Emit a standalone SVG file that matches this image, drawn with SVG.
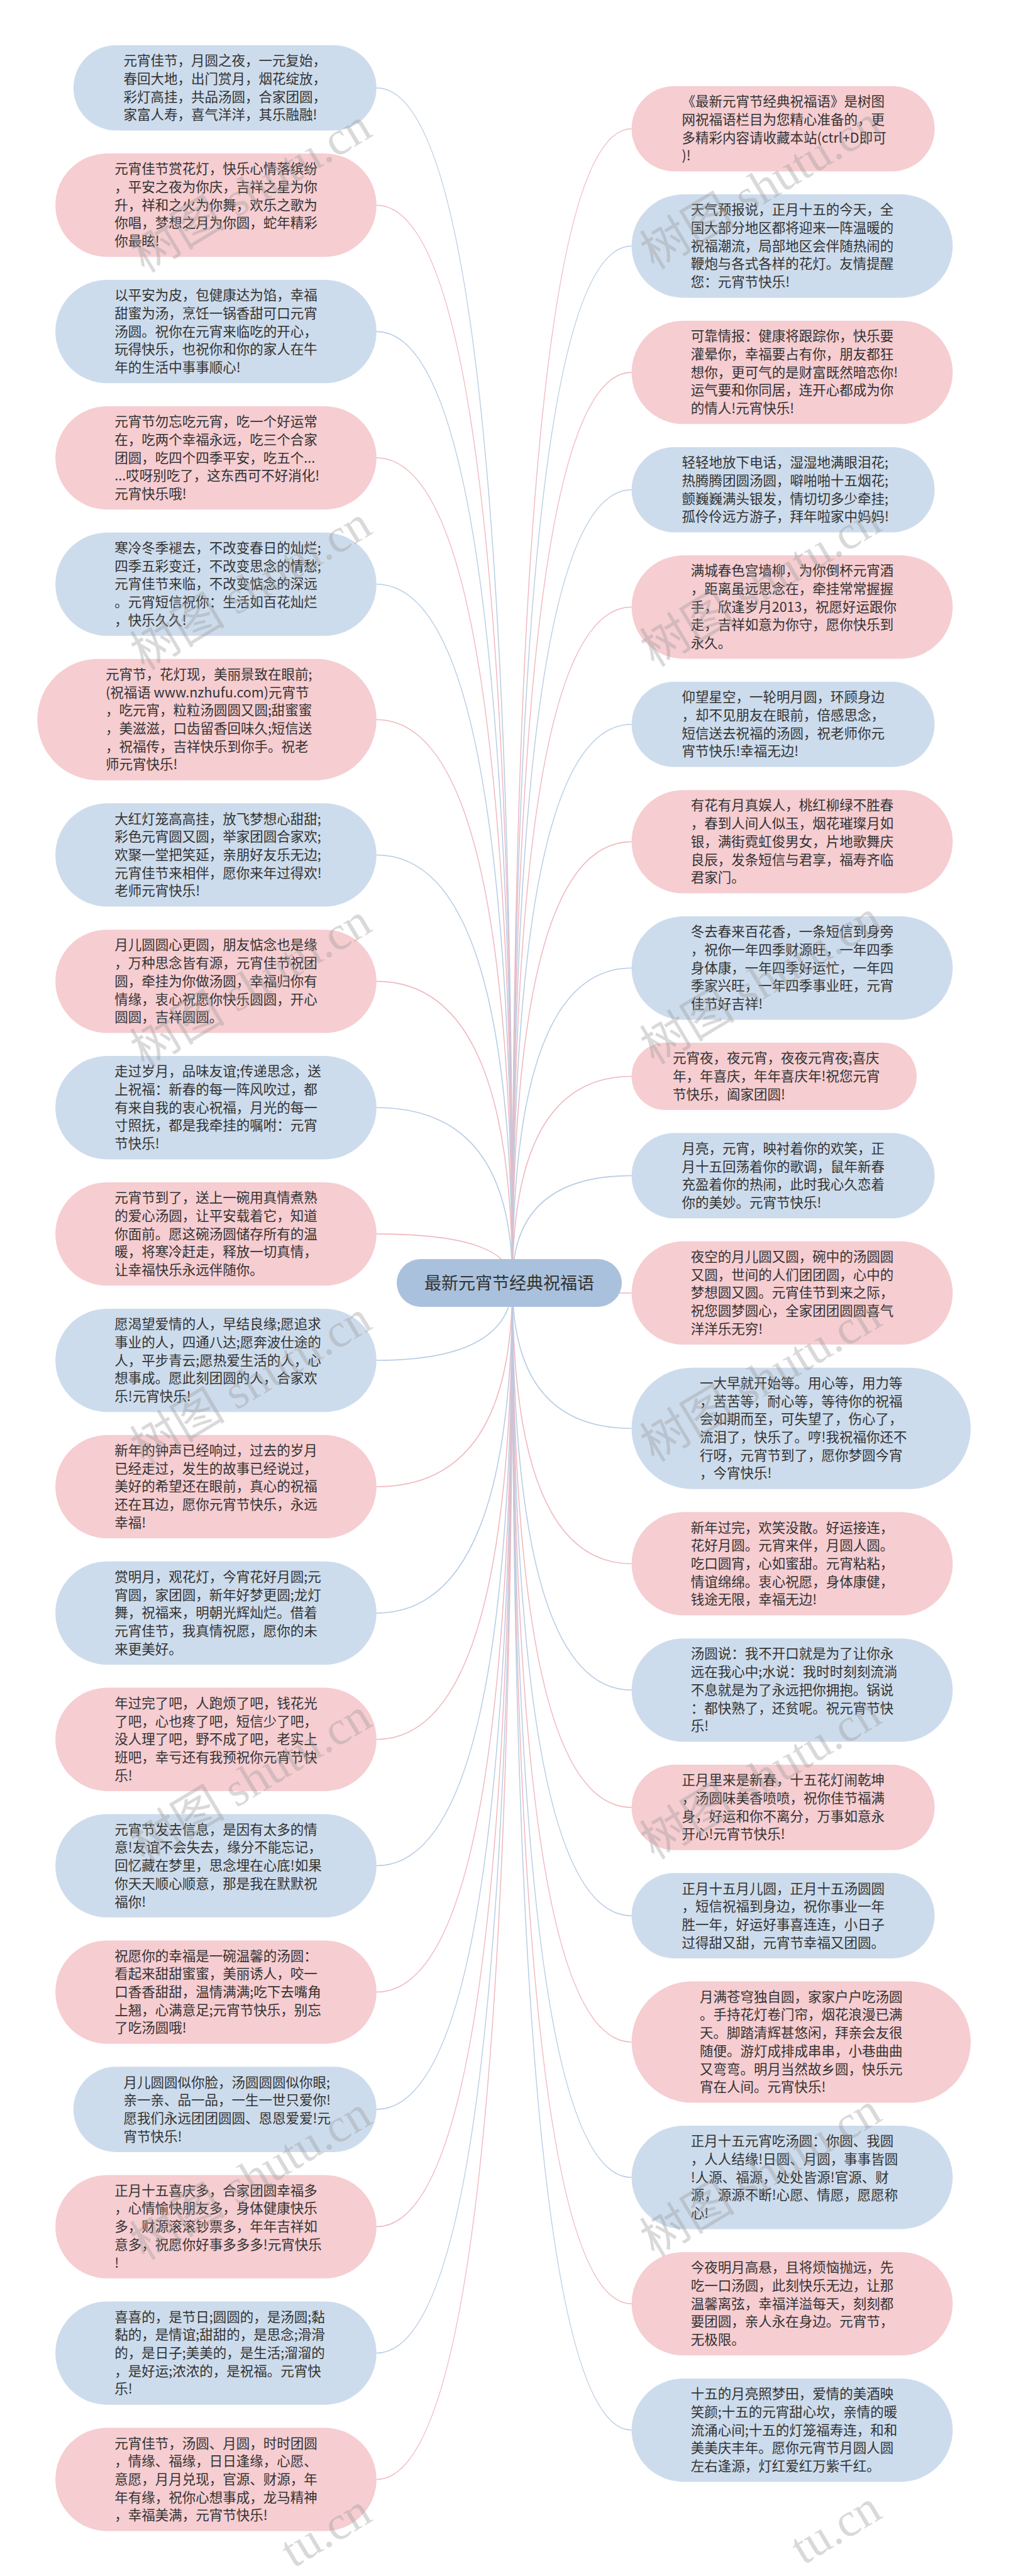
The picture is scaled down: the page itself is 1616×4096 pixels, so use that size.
<svg xmlns="http://www.w3.org/2000/svg" width="1616" height="4096" viewBox="0 0 1616 4096">
<style>
.b{fill:#cddcec}
.p{fill:#f6cdd1}
.t{font-family:"Noto Sans CJK SC","Liberation Sans",sans-serif;font-size:21.5px;fill:#333333}
.root{fill:#a9c1dc}
.rt{font-family:"Noto Sans CJK SC","Liberation Sans",sans-serif;font-size:27px;fill:#333333;text-anchor:middle}
.cb{fill:none;stroke:#b7cce4;stroke-width:1.6}
.cp{fill:none;stroke:#f0b7be;stroke-width:1.6}
.wm{font-family:"Liberation Serif","Noto Sans CJK SC",serif;font-size:76px;fill:#9a9a9a;fill-opacity:0.38;text-anchor:end}
</style>
<rect x="0" y="0" width="1616" height="4096" fill="#ffffff"/>
<g id="connectors">
<path class="cb" d="M598.8,139.7 Q815,139.7 815,2040"/>
<path class="cp" d="M598.8,326.25 Q815,326.25 815,2040"/>
<path class="cb" d="M598.8,527.15 Q815,527.15 815,2040"/>
<path class="cp" d="M598.8,728.05 Q815,728.05 815,2040"/>
<path class="cb" d="M598.8,928.95 Q815,928.95 815,2040"/>
<path class="cp" d="M598.8,1144.2 Q815,1144.2 815,2040"/>
<path class="cb" d="M598.8,1359.45 Q815,1359.45 815,2040"/>
<path class="cp" d="M598.8,1560.35 Q815,1560.35 815,2040"/>
<path class="cb" d="M598.8,1761.25 Q815,1761.25 815,2040"/>
<path class="cp" d="M598.8,1962.15 Q815,1962.15 815,2040"/>
<path class="cb" d="M598.8,2163.05 Q815,2163.05 815,2040"/>
<path class="cp" d="M598.8,2363.95 Q815,2363.95 815,2040"/>
<path class="cb" d="M598.8,2564.85 Q815,2564.85 815,2040"/>
<path class="cp" d="M598.8,2765.75 Q815,2765.75 815,2040"/>
<path class="cb" d="M598.8,2966.65 Q815,2966.65 815,2040"/>
<path class="cp" d="M598.8,3167.55 Q815,3167.55 815,2040"/>
<path class="cb" d="M598.8,3354.1 Q815,3354.1 815,2040"/>
<path class="cp" d="M598.8,3540.65 Q815,3540.65 815,2040"/>
<path class="cb" d="M598.8,3741.55 Q815,3741.55 815,2040"/>
<path class="cp" d="M598.8,3942.45 Q815,3942.45 815,2040"/>
<path class="cp" d="M1004.6,204.7 Q815,204.7 815,2040"/>
<path class="cb" d="M1004.6,391.25 Q815,391.25 815,2040"/>
<path class="cp" d="M1004.6,592.15 Q815,592.15 815,2040"/>
<path class="cb" d="M1004.6,778.7 Q815,778.7 815,2040"/>
<path class="cp" d="M1004.6,965.25 Q815,965.25 815,2040"/>
<path class="cb" d="M1004.6,1151.8 Q815,1151.8 815,2040"/>
<path class="cp" d="M1004.6,1338.35 Q815,1338.35 815,2040"/>
<path class="cb" d="M1004.6,1539.25 Q815,1539.25 815,2040"/>
<path class="cp" d="M1004.6,1711.5 Q815,1711.5 815,2040"/>
<path class="cb" d="M1004.6,1869.4 Q815,1869.4 815,2040"/>
<path class="cp" d="M1004.6,2055.95 Q815,2055.95 815,2040"/>
<path class="cb" d="M1004.6,2271.2 Q815,2271.2 815,2040"/>
<path class="cp" d="M1004.6,2486.45 Q815,2486.45 815,2040"/>
<path class="cb" d="M1004.6,2687.35 Q815,2687.35 815,2040"/>
<path class="cp" d="M1004.6,2873.9 Q815,2873.9 815,2040"/>
<path class="cb" d="M1004.6,3046.1 Q815,3046.1 815,2040"/>
<path class="cp" d="M1004.6,3247 Q815,3247 815,2040"/>
<path class="cb" d="M1004.6,3462.25 Q815,3462.25 815,2040"/>
<path class="cp" d="M1004.6,3663.15 Q815,3663.15 815,2040"/>
<path class="cb" d="M1004.6,3864.05 Q815,3864.05 815,2040"/>
</g>
<g id="root"><rect class="root" x="631" y="2002" width="358" height="76" rx="38"/><text class="rt" x="810" y="2049.5">最新元宵节经典祝福语</text></g>
<g id="L1"><rect class="b" x="116.8" y="71.9" width="482" height="135.6" rx="67.8"/><text class="t" y="104.1"><tspan x="196.6">元宵佳节，月圆之夜，一元复始，</tspan><tspan x="196.6" dy="28.7">春回大地，出门赏月，烟花绽放，</tspan><tspan x="196.6" dy="28.7">彩灯高挂，共品汤圆，合家团圆，</tspan><tspan x="196.6" dy="28.7">家富人寿，喜气洋洋，其乐融融!</tspan></text></g>
<g id="L2"><rect class="p" x="88.1" y="244.1" width="510.7" height="164.3" rx="82.15"/><text class="t" y="276.3"><tspan x="182.25">元宵佳节赏花灯，快乐心情落缤纷</tspan><tspan x="182.25" dy="28.7">，平安之夜为你庆，吉祥之星为你</tspan><tspan x="182.25" dy="28.7">升，祥和之火为你舞，欢乐之歌为</tspan><tspan x="182.25" dy="28.7">你唱，梦想之月为你圆，蛇年精彩</tspan><tspan x="182.25" dy="28.7">你最眩!</tspan></text></g>
<g id="L3"><rect class="b" x="88.1" y="445" width="510.7" height="164.3" rx="82.15"/><text class="t" y="477.2"><tspan x="182.25">以平安为皮，包健康达为馅，幸福</tspan><tspan x="182.25" dy="28.7">甜蜜为汤，烹饪一锅香甜可口元宵</tspan><tspan x="182.25" dy="28.7">汤圆。祝你在元宵来临吃的开心，</tspan><tspan x="182.25" dy="28.7">玩得快乐，也祝你和你的家人在牛</tspan><tspan x="182.25" dy="28.7">年的生活中事事顺心!</tspan></text></g>
<g id="L4"><rect class="p" x="88.1" y="645.9" width="510.7" height="164.3" rx="82.15"/><text class="t" y="678.1"><tspan x="182.25">元宵节勿忘吃元宵，吃一个好运常</tspan><tspan x="182.25" dy="28.7">在，吃两个幸福永远，吃三个合家</tspan><tspan x="182.25" dy="28.7">团圆，吃四个四季平安，吃五个...</tspan><tspan x="182.25" dy="28.7">...哎呀别吃了，这东西可不好消化!</tspan><tspan x="182.25" dy="28.7">元宵快乐哦!</tspan></text></g>
<g id="L5"><rect class="b" x="88.1" y="846.8" width="510.7" height="164.3" rx="82.15"/><text class="t" y="879"><tspan x="182.25">寒冷冬季褪去，不改变春日的灿烂;</tspan><tspan x="182.25" dy="28.7">四季五彩变迁，不改变思念的情愁;</tspan><tspan x="182.25" dy="28.7">元宵佳节来临，不改变惦念的深远</tspan><tspan x="182.25" dy="28.7">。元宵短信祝你：生活如百花灿烂</tspan><tspan x="182.25" dy="28.7">，快乐久久!</tspan></text></g>
<g id="L6"><rect class="p" x="59.4" y="1047.7" width="539.4" height="193" rx="96.5"/><text class="t" y="1079.9"><tspan x="167.9">元宵节，花灯现，美丽景致在眼前;</tspan><tspan x="167.9" dy="28.7">(祝福语 www.nzhufu.com)元宵节</tspan><tspan x="167.9" dy="28.7">，吃元宵，粒粒汤圆圆又圆;甜蜜蜜</tspan><tspan x="167.9" dy="28.7">，美滋滋，口齿留香回味久;短信送</tspan><tspan x="167.9" dy="28.7">，祝福传，吉祥快乐到你手。祝老</tspan><tspan x="167.9" dy="28.7">师元宵快乐!</tspan></text></g>
<g id="L7"><rect class="b" x="88.1" y="1277.3" width="510.7" height="164.3" rx="82.15"/><text class="t" y="1309.5"><tspan x="182.25">大红灯笼高高挂，放飞梦想心甜甜;</tspan><tspan x="182.25" dy="28.7">彩色元宵圆又圆，举家团圆合家欢;</tspan><tspan x="182.25" dy="28.7">欢聚一堂把笑延，亲朋好友乐无边;</tspan><tspan x="182.25" dy="28.7">元宵佳节来相伴，愿你来年过得欢!</tspan><tspan x="182.25" dy="28.7">老师元宵快乐!</tspan></text></g>
<g id="L8"><rect class="p" x="88.1" y="1478.2" width="510.7" height="164.3" rx="82.15"/><text class="t" y="1510.4"><tspan x="182.25">月儿圆圆心更圆，朋友惦念也是缘</tspan><tspan x="182.25" dy="28.7">，万种思念皆有源，元宵佳节祝团</tspan><tspan x="182.25" dy="28.7">圆，牵挂为你做汤圆，幸福归你有</tspan><tspan x="182.25" dy="28.7">情缘，衷心祝愿你快乐圆圆，开心</tspan><tspan x="182.25" dy="28.7">圆圆，吉祥圆圆。</tspan></text></g>
<g id="L9"><rect class="b" x="88.1" y="1679.1" width="510.7" height="164.3" rx="82.15"/><text class="t" y="1711.3"><tspan x="182.25">走过岁月，品味友谊;传递思念，送</tspan><tspan x="182.25" dy="28.7">上祝福：新春的每一阵风吹过，都</tspan><tspan x="182.25" dy="28.7">有来自我的衷心祝福，月光的每一</tspan><tspan x="182.25" dy="28.7">寸照抚，都是我牵挂的嘱咐：元宵</tspan><tspan x="182.25" dy="28.7">节快乐!</tspan></text></g>
<g id="L10"><rect class="p" x="88.1" y="1880" width="510.7" height="164.3" rx="82.15"/><text class="t" y="1912.2"><tspan x="182.25">元宵节到了，送上一碗用真情煮熟</tspan><tspan x="182.25" dy="28.7">的爱心汤圆，让平安载着它，知道</tspan><tspan x="182.25" dy="28.7">你面前。愿这碗汤圆储存所有的温</tspan><tspan x="182.25" dy="28.7">暖，将寒冷赶走，释放一切真情，</tspan><tspan x="182.25" dy="28.7">让幸福快乐永远伴随你。</tspan></text></g>
<g id="L11"><rect class="b" x="88.1" y="2080.9" width="510.7" height="164.3" rx="82.15"/><text class="t" y="2113.1"><tspan x="182.25">愿渴望爱情的人，早结良缘;愿追求</tspan><tspan x="182.25" dy="28.7">事业的人，四通八达;愿奔波仕途的</tspan><tspan x="182.25" dy="28.7">人，平步青云;愿热爱生活的人，心</tspan><tspan x="182.25" dy="28.7">想事成。愿此刻团圆的人，合家欢</tspan><tspan x="182.25" dy="28.7">乐!元宵快乐!</tspan></text></g>
<g id="L12"><rect class="p" x="88.1" y="2281.8" width="510.7" height="164.3" rx="82.15"/><text class="t" y="2314"><tspan x="182.25">新年的钟声已经响过，过去的岁月</tspan><tspan x="182.25" dy="28.7">已经走过，发生的故事已经说过，</tspan><tspan x="182.25" dy="28.7">美好的希望还在眼前，真心的祝福</tspan><tspan x="182.25" dy="28.7">还在耳边，愿你元宵节快乐，永远</tspan><tspan x="182.25" dy="28.7">幸福!</tspan></text></g>
<g id="L13"><rect class="b" x="88.1" y="2482.7" width="510.7" height="164.3" rx="82.15"/><text class="t" y="2514.9"><tspan x="182.25">赏明月，观花灯，今宵花好月圆;元</tspan><tspan x="182.25" dy="28.7">宵圆，家团圆，新年好梦更圆;龙灯</tspan><tspan x="182.25" dy="28.7">舞，祝福来，明朝光辉灿烂。借着</tspan><tspan x="182.25" dy="28.7">元宵佳节，我真情祝愿，愿你的未</tspan><tspan x="182.25" dy="28.7">来更美好。</tspan></text></g>
<g id="L14"><rect class="p" x="88.1" y="2683.6" width="510.7" height="164.3" rx="82.15"/><text class="t" y="2715.8"><tspan x="182.25">年过完了吧，人跑烦了吧，钱花光</tspan><tspan x="182.25" dy="28.7">了吧，心也疼了吧，短信少了吧，</tspan><tspan x="182.25" dy="28.7">没人理了吧，野不成了吧，老实上</tspan><tspan x="182.25" dy="28.7">班吧，幸亏还有我预祝你元宵节快</tspan><tspan x="182.25" dy="28.7">乐!</tspan></text></g>
<g id="L15"><rect class="b" x="88.1" y="2884.5" width="510.7" height="164.3" rx="82.15"/><text class="t" y="2916.7"><tspan x="182.25">元宵节发去信息，是因有太多的情</tspan><tspan x="182.25" dy="28.7">意!友谊不会失去，缘分不能忘记，</tspan><tspan x="182.25" dy="28.7">回忆藏在梦里，思念埋在心底!如果</tspan><tspan x="182.25" dy="28.7">你天天顺心顺意，那是我在默默祝</tspan><tspan x="182.25" dy="28.7">福你!</tspan></text></g>
<g id="L16"><rect class="p" x="88.1" y="3085.4" width="510.7" height="164.3" rx="82.15"/><text class="t" y="3117.6"><tspan x="182.25">祝愿你的幸福是一碗温馨的汤圆：</tspan><tspan x="182.25" dy="28.7">看起来甜甜蜜蜜，美丽诱人，咬一</tspan><tspan x="182.25" dy="28.7">口香香甜甜，温情满满;吃下去嘴角</tspan><tspan x="182.25" dy="28.7">上翘，心满意足;元宵节快乐，别忘</tspan><tspan x="182.25" dy="28.7">了吃汤圆哦!</tspan></text></g>
<g id="L17"><rect class="b" x="116.8" y="3286.3" width="482" height="135.6" rx="67.8"/><text class="t" y="3318.5"><tspan x="196.6">月儿圆圆似你脸，汤圆圆圆似你眼;</tspan><tspan x="196.6" dy="28.7">亲一亲、品一品，一生一世只爱你!</tspan><tspan x="196.6" dy="28.7">愿我们永远团团圆圆、恩恩爱爱!元</tspan><tspan x="196.6" dy="28.7">宵节快乐!</tspan></text></g>
<g id="L18"><rect class="p" x="88.1" y="3458.5" width="510.7" height="164.3" rx="82.15"/><text class="t" y="3490.7"><tspan x="182.25">正月十五喜庆多，合家团圆幸福多</tspan><tspan x="182.25" dy="28.7">，心情愉快朋友多，身体健康快乐</tspan><tspan x="182.25" dy="28.7">多，财源滚滚钞票多，年年吉祥如</tspan><tspan x="182.25" dy="28.7">意多，祝愿你好事多多多!元宵快乐</tspan><tspan x="182.25" dy="28.7">!</tspan></text></g>
<g id="L19"><rect class="b" x="88.1" y="3659.4" width="510.7" height="164.3" rx="82.15"/><text class="t" y="3691.6"><tspan x="182.25">喜喜的，是节日;圆圆的，是汤圆;黏</tspan><tspan x="182.25" dy="28.7">黏的，是情谊;甜甜的，是思念;滑滑</tspan><tspan x="182.25" dy="28.7">的，是日子;美美的，是生活;溜溜的</tspan><tspan x="182.25" dy="28.7">，是好运;浓浓的，是祝福。元宵快</tspan><tspan x="182.25" dy="28.7">乐!</tspan></text></g>
<g id="L20"><rect class="p" x="88.1" y="3860.3" width="510.7" height="164.3" rx="82.15"/><text class="t" y="3892.5"><tspan x="182.25">元宵佳节，汤圆、月圆，时时团圆</tspan><tspan x="182.25" dy="28.7">，情缘、福缘，日日逢缘，心愿、</tspan><tspan x="182.25" dy="28.7">意愿，月月兑现，官源、财源，年</tspan><tspan x="182.25" dy="28.7">年有缘，祝你心想事成，龙马精神</tspan><tspan x="182.25" dy="28.7">，幸福美满，元宵节快乐!</tspan></text></g>
<g id="R1"><rect class="p" x="1004.6" y="136.9" width="482" height="135.6" rx="67.8"/><text class="t" y="169.1"><tspan x="1084.4">《最新元宵节经典祝福语》是树图</tspan><tspan x="1084.4" dy="28.7">网祝福语栏目为您精心准备的，更</tspan><tspan x="1084.4" dy="28.7">多精彩内容请收藏本站(ctrl+D即可</tspan><tspan x="1084.4" dy="28.7">)!</tspan></text></g>
<g id="R2"><rect class="b" x="1004.6" y="309.1" width="510.7" height="164.3" rx="82.15"/><text class="t" y="341.3"><tspan x="1098.75">天气预报说，正月十五的今天，全</tspan><tspan x="1098.75" dy="28.7">国大部分地区都将迎来一阵温暖的</tspan><tspan x="1098.75" dy="28.7">祝福潮流，局部地区会伴随热闹的</tspan><tspan x="1098.75" dy="28.7">鞭炮与各式各样的花灯。友情提醒</tspan><tspan x="1098.75" dy="28.7">您：元宵节快乐!</tspan></text></g>
<g id="R3"><rect class="p" x="1004.6" y="510" width="510.7" height="164.3" rx="82.15"/><text class="t" y="542.2"><tspan x="1098.75">可靠情报：健康将跟踪你，快乐要</tspan><tspan x="1098.75" dy="28.7">灌晕你，幸福要占有你，朋友都狂</tspan><tspan x="1098.75" dy="28.7">想你，更可气的是财富既然暗恋你!</tspan><tspan x="1098.75" dy="28.7">运气要和你同居，连开心都成为你</tspan><tspan x="1098.75" dy="28.7">的情人!元宵快乐!</tspan></text></g>
<g id="R4"><rect class="b" x="1004.6" y="710.9" width="482" height="135.6" rx="67.8"/><text class="t" y="743.1"><tspan x="1084.4">轻轻地放下电话，湿湿地满眼泪花;</tspan><tspan x="1084.4" dy="28.7">热腾腾团圆汤圆，噼啪啪十五烟花;</tspan><tspan x="1084.4" dy="28.7">颤巍巍满头银发，情切切多少牵挂;</tspan><tspan x="1084.4" dy="28.7">孤伶伶远方游子，拜年啦家中妈妈!</tspan></text></g>
<g id="R5"><rect class="p" x="1004.6" y="883.1" width="510.7" height="164.3" rx="82.15"/><text class="t" y="915.3"><tspan x="1098.75">满城春色宫墙柳，为你倒杯元宵酒</tspan><tspan x="1098.75" dy="28.7">，距离虽远思念在，牵挂常常握握</tspan><tspan x="1098.75" dy="28.7">手，欣逢岁月2013，祝愿好运跟你</tspan><tspan x="1098.75" dy="28.7">走，吉祥如意为你守，愿你快乐到</tspan><tspan x="1098.75" dy="28.7">永久。</tspan></text></g>
<g id="R6"><rect class="b" x="1004.6" y="1084" width="482" height="135.6" rx="67.8"/><text class="t" y="1116.2"><tspan x="1084.4">仰望星空，一轮明月圆，环顾身边</tspan><tspan x="1084.4" dy="28.7">，却不见朋友在眼前，倍感思念，</tspan><tspan x="1084.4" dy="28.7">短信送去祝福的汤圆，祝老师你元</tspan><tspan x="1084.4" dy="28.7">宵节快乐!幸福无边!</tspan></text></g>
<g id="R7"><rect class="p" x="1004.6" y="1256.2" width="510.7" height="164.3" rx="82.15"/><text class="t" y="1288.4"><tspan x="1098.75">有花有月真娱人，桃红柳绿不胜春</tspan><tspan x="1098.75" dy="28.7">，春到人间人似玉，烟花璀璨月如</tspan><tspan x="1098.75" dy="28.7">银，满街霓虹俊男女，片地歌舞庆</tspan><tspan x="1098.75" dy="28.7">良辰，发条短信与君享，福寿齐临</tspan><tspan x="1098.75" dy="28.7">君家门。</tspan></text></g>
<g id="R8"><rect class="b" x="1004.6" y="1457.1" width="510.7" height="164.3" rx="82.15"/><text class="t" y="1489.3"><tspan x="1098.75">冬去春来百花香，一条短信到身旁</tspan><tspan x="1098.75" dy="28.7">，祝你一年四季财源旺，一年四季</tspan><tspan x="1098.75" dy="28.7">身体康，一年四季好运忙，一年四</tspan><tspan x="1098.75" dy="28.7">季家兴旺，一年四季事业旺，元宵</tspan><tspan x="1098.75" dy="28.7">佳节好吉祥!</tspan></text></g>
<g id="R9"><rect class="p" x="1004.6" y="1658" width="453.4" height="107" rx="53.5"/><text class="t" y="1690.2"><tspan x="1070.1">元宵夜，夜元宵，夜夜元宵夜;喜庆</tspan><tspan x="1070.1" dy="28.7">年，年喜庆，年年喜庆年!祝您元宵</tspan><tspan x="1070.1" dy="28.7">节快乐，阖家团圆!</tspan></text></g>
<g id="R10"><rect class="b" x="1004.6" y="1801.6" width="482" height="135.6" rx="67.8"/><text class="t" y="1833.8"><tspan x="1084.4">月亮，元宵，映衬着你的欢笑，正</tspan><tspan x="1084.4" dy="28.7">月十五回荡着你的歌调，鼠年新春</tspan><tspan x="1084.4" dy="28.7">充盈着你的热闹，此时我心久恋着</tspan><tspan x="1084.4" dy="28.7">你的美妙。元宵节快乐!</tspan></text></g>
<g id="R11"><rect class="p" x="1004.6" y="1973.8" width="510.7" height="164.3" rx="82.15"/><text class="t" y="2006"><tspan x="1098.75">夜空的月儿圆又圆，碗中的汤圆圆</tspan><tspan x="1098.75" dy="28.7">又圆，世间的人们团团圆，心中的</tspan><tspan x="1098.75" dy="28.7">梦想圆又圆。元宵佳节到来之际，</tspan><tspan x="1098.75" dy="28.7">祝您圆梦圆心，全家团团圆圆喜气</tspan><tspan x="1098.75" dy="28.7">洋洋乐无穷!</tspan></text></g>
<g id="R12"><rect class="b" x="1004.6" y="2174.7" width="539.4" height="193" rx="96.5"/><text class="t" y="2206.9"><tspan x="1113.1">一大早就开始等。用心等，用力等</tspan><tspan x="1113.1" dy="28.7">，苦苦等，耐心等，等待你的祝福</tspan><tspan x="1113.1" dy="28.7">会如期而至，可失望了，伤心了，</tspan><tspan x="1113.1" dy="28.7">流泪了，快乐了。哼!我祝福你还不</tspan><tspan x="1113.1" dy="28.7">行呀，元宵节到了，愿你梦圆今宵</tspan><tspan x="1113.1" dy="28.7">，今宵快乐!</tspan></text></g>
<g id="R13"><rect class="p" x="1004.6" y="2404.3" width="510.7" height="164.3" rx="82.15"/><text class="t" y="2436.5"><tspan x="1098.75">新年过完，欢笑没散。好运接连，</tspan><tspan x="1098.75" dy="28.7">花好月圆。元宵来伴，月圆人圆。</tspan><tspan x="1098.75" dy="28.7">吃口圆宵，心如蜜甜。元宵粘粘，</tspan><tspan x="1098.75" dy="28.7">情谊绵绵。衷心祝愿，身体康健，</tspan><tspan x="1098.75" dy="28.7">钱途无限，幸福无边!</tspan></text></g>
<g id="R14"><rect class="b" x="1004.6" y="2605.2" width="510.7" height="164.3" rx="82.15"/><text class="t" y="2637.4"><tspan x="1098.75">汤圆说：我不开口就是为了让你永</tspan><tspan x="1098.75" dy="28.7">远在我心中;水说：我时时刻刻流淌</tspan><tspan x="1098.75" dy="28.7">不息就是为了永远把你拥抱。锅说</tspan><tspan x="1098.75" dy="28.7">：都快熟了，还贫呢。祝元宵节快</tspan><tspan x="1098.75" dy="28.7">乐!</tspan></text></g>
<g id="R15"><rect class="p" x="1004.6" y="2806.1" width="482" height="135.6" rx="67.8"/><text class="t" y="2838.3"><tspan x="1084.4">正月里来是新春，十五花灯闹乾坤</tspan><tspan x="1084.4" dy="28.7">，汤圆味美香喷喷，祝你佳节福满</tspan><tspan x="1084.4" dy="28.7">身，好运和你不离分，万事如意永</tspan><tspan x="1084.4" dy="28.7">开心!元宵节快乐!</tspan></text></g>
<g id="R16"><rect class="b" x="1004.6" y="2978.3" width="482" height="135.6" rx="67.8"/><text class="t" y="3010.5"><tspan x="1084.4">正月十五月儿圆，正月十五汤圆圆</tspan><tspan x="1084.4" dy="28.7">，短信祝福到身边，祝你事业一年</tspan><tspan x="1084.4" dy="28.7">胜一年，好运好事喜连连，小日子</tspan><tspan x="1084.4" dy="28.7">过得甜又甜，元宵节幸福又团圆。</tspan></text></g>
<g id="R17"><rect class="p" x="1004.6" y="3150.5" width="539.4" height="193" rx="96.5"/><text class="t" y="3182.7"><tspan x="1113.1">月满苍穹独自圆，家家户户吃汤圆</tspan><tspan x="1113.1" dy="28.7">。手持花灯卷门帘，烟花浪漫已满</tspan><tspan x="1113.1" dy="28.7">天。脚踏清辉甚悠闲，拜亲会友很</tspan><tspan x="1113.1" dy="28.7">随便。游灯成排成串串，小巷曲曲</tspan><tspan x="1113.1" dy="28.7">又弯弯。明月当然故乡圆，快乐元</tspan><tspan x="1113.1" dy="28.7">宵在人间。元宵快乐!</tspan></text></g>
<g id="R18"><rect class="b" x="1004.6" y="3380.1" width="510.7" height="164.3" rx="82.15"/><text class="t" y="3412.3"><tspan x="1098.75">正月十五元宵吃汤圆：你圆、我圆</tspan><tspan x="1098.75" dy="28.7">，人人结缘!日圆、月圆，事事皆圆</tspan><tspan x="1098.75" dy="28.7">!人源、福源，处处皆源!官源、财</tspan><tspan x="1098.75" dy="28.7">源，源源不断!心愿、情愿，愿愿称</tspan><tspan x="1098.75" dy="28.7">心!</tspan></text></g>
<g id="R19"><rect class="p" x="1004.6" y="3581" width="510.7" height="164.3" rx="82.15"/><text class="t" y="3613.2"><tspan x="1098.75">今夜明月高悬，且将烦恼抛远，先</tspan><tspan x="1098.75" dy="28.7">吃一口汤圆，此刻快乐无边，让那</tspan><tspan x="1098.75" dy="28.7">温馨离弦，幸福洋溢每天，刻刻都</tspan><tspan x="1098.75" dy="28.7">要团圆，亲人永在身边。元宵节，</tspan><tspan x="1098.75" dy="28.7">无极限。</tspan></text></g>
<g id="R20"><rect class="b" x="1004.6" y="3781.9" width="510.7" height="164.3" rx="82.15"/><text class="t" y="3814.1"><tspan x="1098.75">十五的月亮照梦田，爱情的美酒映</tspan><tspan x="1098.75" dy="28.7">笑颜;十五的元宵甜心坎，亲情的暖</tspan><tspan x="1098.75" dy="28.7">流涌心间;十五的灯笼福寿连，和和</tspan><tspan x="1098.75" dy="28.7">美美庆丰年。愿你元宵节月圆人圆</tspan><tspan x="1098.75" dy="28.7">左右逢源，灯红爱红万紫千红。</tspan></text></g>
<g id="watermarks">
<text class="wm" x="595" y="215" transform="rotate(-31 595 215)">树图 shutu.cn</text>
<text class="wm" x="595" y="847" transform="rotate(-31 595 847)">树图 shutu.cn</text>
<text class="wm" x="595" y="1479" transform="rotate(-31 595 1479)">树图 shutu.cn</text>
<text class="wm" x="595" y="2111" transform="rotate(-31 595 2111)">树图 shutu.cn</text>
<text class="wm" x="595" y="2743" transform="rotate(-31 595 2743)">树图 shutu.cn</text>
<text class="wm" x="595" y="3375" transform="rotate(-31 595 3375)">树图 shutu.cn</text>
<text class="wm" x="595" y="4007" transform="rotate(-31 595 4007)">tu.cn</text>
<text class="wm" x="1406" y="210" transform="rotate(-31 1406 210)">树图 shutu.cn</text>
<text class="wm" x="1406" y="842" transform="rotate(-31 1406 842)">树图 shutu.cn</text>
<text class="wm" x="1406" y="1474" transform="rotate(-31 1406 1474)">树图 shutu.cn</text>
<text class="wm" x="1406" y="2106" transform="rotate(-31 1406 2106)">树图 shutu.cn</text>
<text class="wm" x="1406" y="2738" transform="rotate(-31 1406 2738)">树图 shutu.cn</text>
<text class="wm" x="1406" y="3370" transform="rotate(-31 1406 3370)">树图 shutu.cn</text>
<text class="wm" x="1406" y="4002" transform="rotate(-31 1406 4002)">tu.cn</text>
</g>
</svg>
